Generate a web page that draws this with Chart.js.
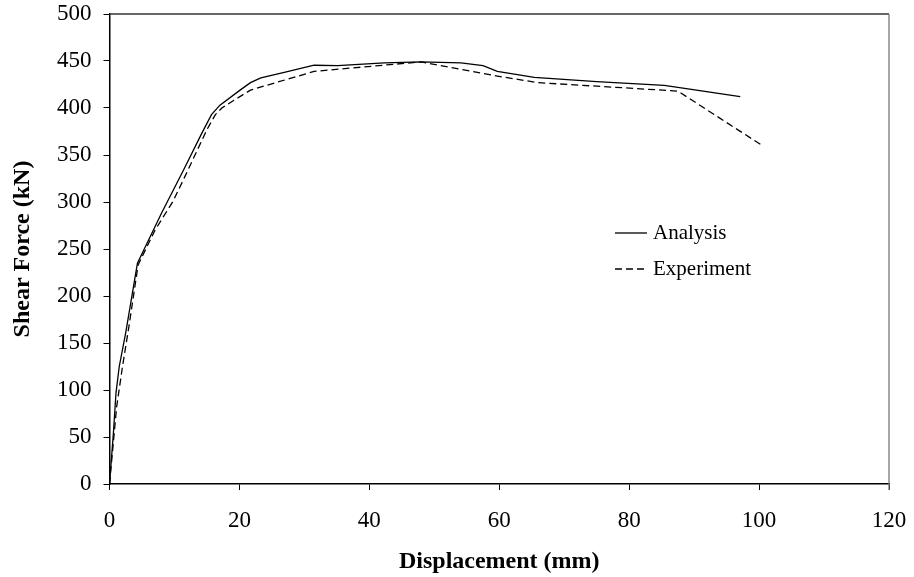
<!DOCTYPE html>
<html>
<head>
<meta charset="utf-8">
<script src="https://cdn.jsdelivr.net/npm/chart.js@4.4.1/dist/chart.umd.min.js"></script>
<style>
  html, body { margin: 0; padding: 0; background: #fff; }
  #wrap { width: 914px; height: 577px; }
</style>
</head>
<body>
<div id="wrap"><canvas id="myChart" width="914" height="577"></canvas></div>
<script>
// shear force vs displacement, analysis and test
const analysisX = [0, 0.6, 1.0, 1.5, 2.5, 4.3, 8.0, 11.4, 14.2, 15.7, 17.0, 20.1, 21.7, 23.3, 26.9, 31.5, 35.1, 42.3, 47.9, 54.1, 57.5, 59.7, 65.4, 75, 85.4, 87.5, 97.1];
const analysisY = [0, 54, 97, 125, 161, 235, 288, 334, 373, 393, 403, 419, 427, 432, 438, 445.5, 445, 448, 449, 448, 445, 439, 432.5, 428, 424, 422, 412];
const experimentX = [0, 1.1, 2.0, 3.0, 4.4, 7.0, 9.8, 11.6, 15.0, 16.3, 17.3, 19.1, 21.7, 31.5, 47.9, 59.7, 65.9, 87.5, 100.5];
const experimentY = [0, 82, 125, 168, 233, 270, 301, 327, 377, 393, 400, 408, 419, 439, 449, 434, 427, 418, 360];

const xTicks = [0, 20, 40, 60, 80, 100, 120];
const yTicks = [0, 50, 100, 150, 200, 250, 300, 350, 400, 450, 500];

const FONT = "'Liberation Serif', 'Times New Roman', serif";

function toPoints(xs, ys) {
  return xs.map((x, i) => ({ x, y: ys[i] }));
}

// top and right frame lines
const frame = {
  id: 'frame',
  afterDraw(chart) {
    const { ctx, chartArea: a } = chart;
    ctx.save();
    ctx.lineWidth = 1.3;
    ctx.strokeStyle = '#333';
    ctx.beginPath();
    ctx.moveTo(a.left, a.top);
    ctx.lineTo(a.right, a.top);
    ctx.stroke();
    ctx.strokeStyle = '#777';
    ctx.beginPath();
    ctx.moveTo(a.right, a.top);
    ctx.lineTo(a.right, a.bottom + 6);
    ctx.stroke();
    ctx.restore();
  },
};

// legend drawn inside the plot
const innerLegend = {
  id: 'innerLegend',
  afterDraw(chart) {
    const { ctx } = chart;
    const x0 = 615, len = 32, rows = [233, 269];
    ctx.save();
    ctx.font = '21px ' + FONT;
    ctx.fillStyle = '#000';
    ctx.textBaseline = 'middle';
    chart.data.datasets.forEach((ds, i) => {
      const y = rows[i];
      ctx.strokeStyle = '#000';
      ctx.lineWidth = 1.3;
      ctx.setLineDash(ds.borderDash || []);
      ctx.beginPath();
      ctx.moveTo(x0, y);
      ctx.lineTo(x0 + len, y);
      ctx.stroke();
      ctx.setLineDash([]);
      ctx.fillText(ds.label, x0 + len + 6, y);
    });
    ctx.restore();
  },
};

const ctx = document.getElementById('myChart').getContext('2d');
window.myChart = new Chart(ctx, {
  type: 'scatter',
  data: {
    datasets: [
      {
        label: 'Analysis',
        data: toPoints(analysisX, analysisY),
        showLine: true,
        borderColor: '#000',
        borderWidth: 1.3,
        pointRadius: 0,
        tension: 0,
      },
      {
        label: 'Experiment',
        data: toPoints(experimentX, experimentY),
        showLine: true,
        borderColor: '#000',
        borderWidth: 1.3,
        borderDash: [7, 4],
        pointRadius: 0,
        tension: 0,
      },
    ],
  },
  options: {
    responsive: false,
    animation: false,
    layout: { padding: { top: 14, right: 25, left: 0, bottom: 0 } },
    plugins: {
      legend: { display: false },
      tooltip: { enabled: false },
    },
    scales: {
      x: {
        type: 'linear',
        min: 0,
        max: 120,
        afterBuildTicks: (scale) => { scale.ticks = xTicks.map((v) => ({ value: v })); },
        afterFit: (scale) => {
          scale.height = 93;
          scale.paddingLeft = 0;
          scale.paddingRight = 0;
        },
        grid: { drawOnChartArea: false, drawTicks: true, tickLength: 6, color: '#000', lineWidth: 1 },
        border: { color: '#000', width: 1.5 },
        ticks: { color: '#000', font: { family: FONT, size: 23 }, padding: 17, maxRotation: 0 },
        title: {
          display: true,
          text: 'Displacement (mm)',
          color: '#000',
          font: { family: FONT, size: 24, weight: 'bold' },
          padding: { top: 0, bottom: 1 },
        },
      },
      y: {
        type: 'linear',
        min: 0,
        max: 500,
        afterBuildTicks: (scale) => { scale.ticks = yTicks.map((v) => ({ value: v })); },
        afterFit: (scale) => {
          scale.width = 109.5;
          scale.paddingTop = 0;
          scale.paddingBottom = 0;
        },
        grid: { drawOnChartArea: false, drawTicks: true, tickLength: 6, color: '#000', lineWidth: 1 },
        border: { color: '#000', width: 1.5 },
        ticks: { color: '#000', font: { family: FONT, size: 23 }, padding: 12 },
        title: {
          display: true,
          text: 'Shear Force (kN)',
          color: '#000',
          font: { family: FONT, size: 24, weight: 'bold' },
          padding: { top: 8, bottom: 0 },
        },
      },
    },
  },
  plugins: [frame, innerLegend],
});
</script>
</body>
</html>
